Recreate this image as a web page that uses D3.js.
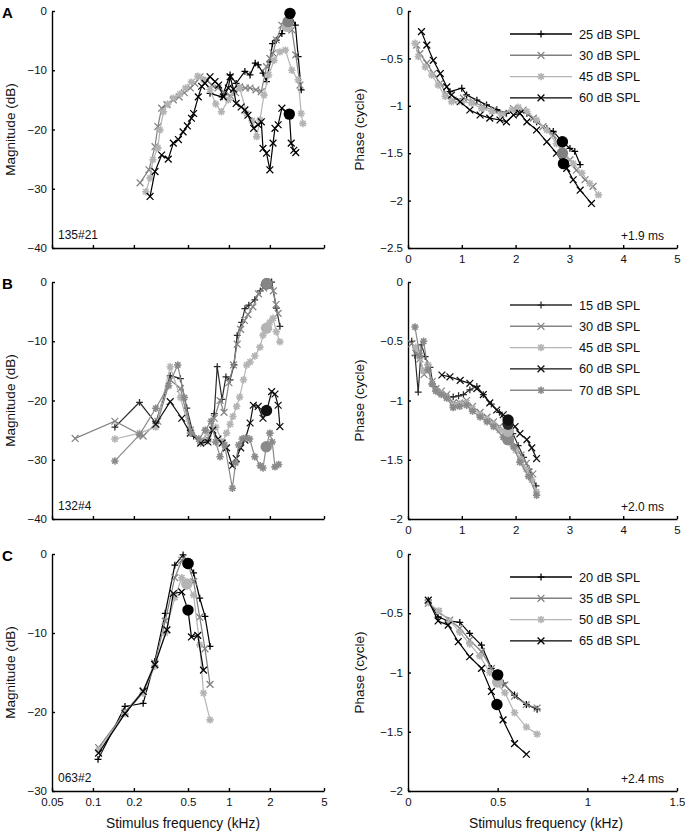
<!DOCTYPE html>
<html><head><meta charset="utf-8">
<script src="https://cdn.jsdelivr.net/npm/d3@7"></script>
<style>body{margin:0;background:#fff} text{font-family:"Liberation Sans",Arial,Helvetica,sans-serif}</style>
</head><body><svg id="c" width="685" height="832"></svg>
<script>
// ---------- Panel A (unit 135#21) ----------
const levelsA = ["25 dB SPL","30 dB SPL","45 dB SPL","60 dB SPL"];
const magA25 = [[0.726,-13.9],[0.89,-14.5],[1.02,-10.8],[1.13,-12.2],[1.31,-10.2],[1.43,-10.8],[1.56,-8.8],[1.64,-9.1],[1.78,-10.5],[1.89,-11.9],[2.0,-8.6],[2.09,-5.5],[2.23,-4.9],[2.45,-3.8],[2.58,-2.1],[2.81,-0.4],[3.08,-2.4],[3.23,-7.7],[3.4,-13.3]];
const magA30 = [[0.222,-29.0],[0.258,-26.8],[0.286,-22.9],[0.30,-19.5],[0.32,-16.4],[0.35,-15.8],[0.39,-15.0],[0.43,-14.5],[0.47,-13.8],[0.52,-13.0],[0.56,-12.2],[0.613,-11.1],[0.68,-11.6],[0.75,-12.5],[0.83,-13.0],[0.92,-13.7],[1.02,-14.3],[1.12,-13.8],[1.2,-12.8],[1.32,-13.0],[1.43,-13.0],[1.58,-13.3],[1.73,-13.6],[1.89,-9.4],[2.0,-8.0],[2.11,-7.1],[2.23,-4.9],[2.45,-2.4],[2.70,-1.8],[2.9,-3.2],[3.1,-7.4],[3.33,-12.5]];
const magA45 = [[0.245,-30.5],[0.263,-28.2],[0.276,-25.1],[0.30,-23.1],[0.311,-20.1],[0.33,-17.0],[0.355,-15.7],[0.39,-14.7],[0.437,-14.0],[0.48,-13.0],[0.53,-12.0],[0.59,-11.0],[0.65,-11.6],[0.726,-13.3],[0.80,-15.7],[0.88,-17.0],[0.99,-15.0],[1.08,-13.7],[1.2,-13.0],[1.35,-17.3],[1.48,-18.5],[1.6,-21.2],[1.69,-18.4],[1.81,-14.2],[1.96,-10.8],[2.15,-8.3],[2.37,-6.9],[2.6,-6.6],[2.9,-10.0],[3.23,-11.6],[3.4,-17.3],[3.5,-19.0]];
const magA60 = [[0.263,-31.3],[0.286,-27.1],[0.32,-24.3],[0.358,-25.0],[0.39,-22.3],[0.425,-21.7],[0.46,-20.4],[0.495,-19.4],[0.53,-18.1],[0.55,-17.3],[0.595,-14.5],[0.63,-12.7],[0.667,-12.2],[0.726,-11.1],[0.79,-11.9],[0.84,-12.5],[0.91,-14.5],[0.99,-13.0],[1.02,-11.1],[1.08,-13.2],[1.13,-15.6],[1.23,-16.2],[1.31,-16.7],[1.38,-17.6],[1.52,-19.8],[1.64,-19.2],[1.73,-18.7],[1.78,-23.2],[1.89,-24.0],[2.0,-26.8],[2.11,-22.3],[2.18,-19.8],[2.30,-19.2],[2.45,-16.4],[2.78,-17.4],[2.87,-22.3],[3.0,-23.5],[3.1,-23.9]];
const cfMagA = [[2,2.68,-2.6],[1,2.72,-1.8],[0,2.81,-0.4],[3,2.78,-17.4]];

const phA25 = [[0.78,-0.85],[1.0,-0.815],[1.09,-0.886],[1.28,-0.94],[1.46,-0.99],[1.65,-1.04],[1.83,-1.08],[2.02,-1.044],[2.21,-1.08],[2.39,-1.17],[2.58,-1.24],[2.70,-1.27],[2.87,-1.38],[3.01,-1.45],[3.1,-1.48],[3.2,-1.62]];
const phA30 = [[0.16,-0.36],[0.22,-0.45],[0.35,-0.55],[0.47,-0.66],[0.6,-0.76],[0.72,-0.886],[0.84,-0.94],[1.03,-0.92],[1.21,-0.957],[1.4,-1.01],[1.59,-1.044],[1.77,-1.08],[1.96,-1.03],[2.14,-1.044],[2.33,-1.13],[2.51,-1.22],[2.70,-1.31],[2.87,-1.50],[3.01,-1.57],[3.13,-1.68],[3.29,-1.78],[3.44,-1.85]];
const phA45 = [[0.13,-0.34],[0.19,-0.48],[0.32,-0.59],[0.44,-0.675],[0.56,-0.78],[0.69,-0.90],[0.81,-0.957],[1.0,-0.957],[1.18,-0.97],[1.37,-1.03],[1.56,-1.06],[1.74,-1.097],[1.93,-1.044],[2.05,-1.016],[2.21,-1.06],[2.39,-1.15],[2.58,-1.255],[2.76,-1.40],[2.87,-1.47],[3.07,-1.61],[3.23,-1.71],[3.38,-1.82],[3.54,-1.94]];
const phA60 = [[0.25,-0.218],[0.35,-0.36],[0.47,-0.52],[0.6,-0.66],[0.72,-0.80],[0.81,-0.886],[0.97,-0.957],[1.15,-1.044],[1.34,-1.097],[1.52,-1.13],[1.71,-1.15],[1.83,-1.17],[1.96,-1.097],[2.08,-1.08],[2.21,-1.17],[2.39,-1.255],[2.58,-1.38],[2.76,-1.50],[2.89,-1.61],[2.95,-1.66],[3.07,-1.78],[3.2,-1.89],[3.41,-2.03]];
const cfPhA = [[1,2.87,-1.50],[0,2.87,-1.38],[3,2.89,-1.61]];

// ---------- Panel B (unit 132#4) ----------
const levelsB = ["15 dB SPL","30 dB SPL","45 dB SPL","60 dB SPL","70 dB SPL"];
const magB15 = [[0.145,-24.5],[0.22,-20.3],[0.29,-23.8],[0.37,-15.8],[0.44,-16.3],[0.49,-21.3],[0.55,-26.0],[0.62,-27.2],[0.70,-26.8],[0.78,-22.2],[0.82,-14.3],[0.89,-19.8],[0.95,-16.0],[1.02,-16.5],[1.09,-14.0],[1.15,-9.0],[1.24,-6.8],[1.31,-4.5],[1.40,-3.9],[1.55,-3.0],[1.70,-1.5],[1.89,-0.2],[2.06,0.0],[2.23,-4.4],[2.37,-7.5]];
const magB30 = [[0.074,-26.4],[0.145,-23.5],[0.234,-26.0],[0.30,-23.5],[0.37,-16.5],[0.44,-18.0],[0.52,-25.0],[0.62,-26.8],[0.70,-26.5],[0.78,-23.0],[0.86,-20.0],[0.92,-22.0],[1.0,-17.0],[1.08,-14.0],[1.15,-10.5],[1.22,-8.0],[1.30,-6.5],[1.38,-5.5],[1.5,-4.2],[1.65,-2.0],[1.8,-1.0],[1.9,-0.5],[2.0,-0.4],[2.12,-1.5],[2.22,-3.8],[2.30,-5.3]];
const magB45 = [[0.145,-26.5],[0.22,-25.5],[0.29,-24.5],[0.37,-14.3],[0.44,-19.5],[0.52,-25.5],[0.62,-27.0],[0.70,-25.5],[0.80,-24.5],[0.9,-27.0],[0.96,-25.5],[1.02,-24.0],[1.07,-22.7],[1.14,-21.0],[1.2,-19.4],[1.28,-16.5],[1.35,-14.0],[1.43,-13.5],[1.55,-12.5],[1.69,-11.0],[1.78,-9.0],[1.89,-7.5],[2.0,-6.8],[2.11,-6.1],[2.23,-8.4],[2.37,-10.1]];
const magB60 = [[0.29,-24.0],[0.37,-20.2],[0.45,-23.0],[0.52,-25.5],[0.62,-27.2],[0.70,-27.0],[0.76,-25.0],[0.83,-26.5],[0.89,-27.2],[0.96,-28.0],[1.06,-31.0],[1.13,-29.8],[1.22,-28.0],[1.31,-26.7],[1.43,-23.8],[1.51,-20.8],[1.64,-21.0],[1.78,-23.0],[1.89,-21.9],[2.06,-18.5],[2.18,-18.9],[2.30,-20.8],[2.37,-24.4]];
const magB70 = [[0.145,-30.2],[0.22,-25.8],[0.29,-21.3],[0.36,-17.5],[0.42,-14.0],[0.47,-19.5],[0.53,-25.5],[0.6,-26.5],[0.67,-25.0],[0.74,-23.5],[0.80,-27.0],[0.86,-29.5],[0.93,-27.5],[1.06,-34.8],[1.12,-30.5],[1.18,-27.5],[1.25,-26.5],[1.33,-26.3],[1.42,-26.5],[1.55,-29.5],[1.70,-31.0],[1.78,-31.4],[1.88,-27.8],[2.0,-25.5],[2.08,-27.0],[2.18,-31.2],[2.32,-30.8]];
const cfMagB = [[4,1.88,-27.8],[3,1.89,-21.7],[2,1.89,-7.8],[0,1.9,-0.3],[1,1.9,-0.3]];

const phB15 = [[0.07,-0.5],[0.13,-0.62],[0.19,-0.93],[0.25,-0.53],[0.32,-0.63],[0.41,-0.72],[0.47,-0.88],[0.56,-0.93],[0.66,-0.95],[0.75,-0.97],[0.84,-0.97],[0.94,-0.96],[1.03,-0.95],[1.15,-0.91],[1.28,-0.88],[1.4,-0.95],[1.55,-1.03],[1.7,-1.1],[1.83,-1.18],[1.95,-1.28],[2.05,-1.38],[2.15,-1.48],[2.25,-1.58],[2.38,-1.72]];
const phB30 = [[0.07,-0.52],[0.145,-0.60],[0.22,-0.65],[0.3,-0.78],[0.37,-0.72],[0.45,-0.84],[0.52,-0.90],[0.62,-0.92],[0.72,-0.95],[0.84,-1.02],[0.96,-1.02],[1.09,-1.0],[1.2,-1.05],[1.34,-1.1],[1.47,-1.14],[1.59,-1.18],[1.7,-1.22],[1.8,-1.27],[1.9,-1.32],[2.0,-1.38],[2.1,-1.46],[2.2,-1.53],[2.32,-1.62]];
const phB45 = [[0.145,-0.55],[0.22,-0.64],[0.29,-0.75],[0.37,-0.70],[0.45,-0.86],[0.52,-0.92],[0.62,-0.94],[0.72,-0.97],[0.84,-1.04],[0.96,-1.03],[1.09,-1.02],[1.2,-1.07],[1.34,-1.12],[1.47,-1.16],[1.59,-1.2],[1.7,-1.25],[1.8,-1.3],[1.9,-1.35],[2.0,-1.42],[2.1,-1.5],[2.2,-1.58],[2.3,-1.67],[2.39,-1.77]];
const phB60 = [[0.63,-0.785],[0.78,-0.80],[0.97,-0.83],[1.15,-0.855],[1.28,-0.90],[1.40,-0.95],[1.52,-1.02],[1.65,-1.08],[1.77,-1.12],[1.86,-1.165],[1.99,-1.22],[2.08,-1.28],[2.21,-1.33],[2.30,-1.40],[2.39,-1.49]];
const phB70 = [[0.13,-0.38],[0.22,-0.62],[0.29,-0.50],[0.37,-0.74],[0.45,-0.86],[0.52,-0.92],[0.62,-0.95],[0.72,-0.98],[0.84,-1.06],[0.96,-1.05],[1.09,-1.04],[1.2,-1.09],[1.34,-1.14],[1.47,-1.18],[1.59,-1.22],[1.77,-1.31],[1.96,-1.39],[2.08,-1.52],[2.24,-1.64],[2.39,-1.80]];
const cfPhB = [[1,1.86,-1.33],[4,1.86,-1.33],[2,1.86,-1.26],[0,1.86,-1.2],[3,1.86,-1.165]];

// ---------- Panel C (unit 063#2) ----------
const levelsC = ["20 dB SPL","35 dB SPL","50 dB SPL","65 dB SPL"];
const magC20 = [[0.109,-26.0],[0.172,-19.3],[0.234,-18.9],[0.285,-13.6],[0.34,-7.5],[0.40,-1.4],[0.46,-0.1],[0.55,-2.4],[0.61,-5.6],[0.667,-7.9],[0.726,-11.7]];
const magC35 = [[0.11,-24.5],[0.172,-20.0],[0.234,-17.3],[0.285,-13.8],[0.34,-8.5],[0.40,-3.0],[0.45,-0.8],[0.50,-1.2],[0.55,-3.5],[0.61,-8.0],[0.667,-12.0],[0.726,-16.5]];
const magC50 = [[0.11,-24.8],[0.172,-20.2],[0.234,-17.6],[0.285,-14.2],[0.34,-10.0],[0.40,-5.5],[0.45,-3.0],[0.49,-3.8],[0.55,-5.2],[0.61,-11.5],[0.65,-17.6],[0.726,-21.0]];
const magC65 = [[0.11,-25.2],[0.172,-20.2],[0.234,-17.4],[0.285,-14.0],[0.35,-9.6],[0.39,-5.0],[0.45,-4.8],[0.50,-7.1],[0.53,-10.5],[0.59,-10.3],[0.65,-14.7]];
const cfMagC = [[2,0.49,-3.8],[1,0.50,-1.2],[0,0.50,-1.2],[3,0.50,-7.1]];

const phC20 = [[0.113,-0.39],[0.168,-0.53],[0.224,-0.565],[0.289,-0.577],[0.344,-0.67],[0.41,-0.77],[0.465,-0.965],[0.51,-1.02],[0.53,-1.09],[0.594,-1.19],[0.66,-1.27],[0.72,-1.31]];
const phC35 = [[0.113,-0.416],[0.168,-0.487],[0.233,-0.557],[0.289,-0.627],[0.344,-0.726],[0.41,-0.824],[0.465,-0.965],[0.50,-1.035],[0.54,-1.105],[0.594,-1.20],[0.66,-1.27],[0.72,-1.30]];
const phC50 = [[0.113,-0.41],[0.171,-0.48],[0.233,-0.565],[0.289,-0.66],[0.344,-0.76],[0.40,-0.86],[0.456,-1.0],[0.493,-1.09],[0.54,-1.17],[0.594,-1.34],[0.66,-1.46],[0.72,-1.52]];
const phC65 = [[0.113,-0.39],[0.168,-0.565],[0.224,-0.60],[0.28,-0.74],[0.344,-0.867],[0.41,-0.965],[0.465,-1.16],[0.496,-1.27],[0.53,-1.40],[0.594,-1.60],[0.66,-1.69]];
const cfPhC = [[2,0.5,-1.08],[1,0.5,-1.02],[0,0.5,-1.02],[3,0.496,-1.27]];

// ---------- axes / labels ----------
const magTicksAB = [-40,-30,-20,-10,0];
const magTicksC = [-30,-20,-10,0];
const phTicksA = [-2.5,-2,-1.5,-1,-0.5,0];
const phTicksBC = [-2,-1.5,-1,-0.5,0];
const freqLogTicks = [0.05,0.1,0.2,0.5,1,2,5];
const freqLinTicksAB = [0,1,2,3,4,5];
const freqLinTicksC = [0,0.5,1,1.5];
const unitIds = ["135#21","132#4","063#2"];
const delays = ["+1.9 ms","+2.0 ms","+2.4 ms"];
const panelLetters = ["A","B","C"];

// ---------- styles ----------
const stylesA = [{c:"#000",m:"plus"},{c:"#808080",m:"cross"},{c:"#b4b4b4",m:"star"},{c:"#000",m:"cross"}];
const stylesB = [{c:"#2a2a2a",m:"plus"},{c:"#858585",m:"cross"},{c:"#b4b4b4",m:"star"},{c:"#111",m:"cross"},{c:"#8a8a8a",m:"star"}];
const stylesC = stylesA;

const svg = d3.select("#c");
const rowTop=[11,282,554], rowH=237;
const LX0=52,LX1=324,RX0=408,RX1=677;
const FONT = 11.5;

function markerPath(m){
  const s=3.4;
  if(m==="plus") return `M${-s},0H${s}M0,${-s}V${s}`;
  if(m==="cross") return `M${-s},${-s}L${s},${s}M${-s},${s}L${s},${-s}`;
  const t=3.7,u=2.7;
  return `M${-t},0H${t}M0,${-t}V${t}M${-u},${-u}L${u},${u}M${-u},${u}L${u},${-u}`;
}

function drawPanel(p){
  const g = svg.append("g");
  const top=rowTop[p.row], bot=top+rowH;
  const x0 = p.left?LX0:RX0;
  const x = p.left ? d3.scaleLog().domain([0.05,5]).range([LX0,LX1])
                   : d3.scaleLinear().domain(p.xDomain).range([RX0,RX1]);
  const y = d3.scaleLinear().domain(p.yDomain).range([bot,top]);
  const ya = d3.axisLeft(y).tickValues(p.yTicks).tickSize(-3).tickSizeOuter(0).tickPadding(5).tickFormat(d3.format("~g"));
  const xa = d3.axisBottom(x).tickValues(p.xTicks).tickSize(-3).tickSizeOuter(0).tickPadding(7)
      .tickFormat(p.xLabels ? (d=>String(d)) : (()=>""));
  const gy=g.append("g").attr("transform",`translate(${x0},0)`).call(ya);
  const gx=g.append("g").attr("transform",`translate(0,${bot})`).call(xa);
  [gy,gx].forEach(a=>{
    a.select(".domain").attr("stroke","#000").attr("stroke-width",1.4);
    a.selectAll(".tick line").attr("stroke","#000").attr("stroke-width",1.4);
    a.selectAll("text").attr("font-size",FONT).attr("fill","#111").attr("font-family",'"Liberation Sans",Arial,sans-serif');
  });
  const line = d3.line().x(d=>x(d[0])).y(d=>y(d[1]));
  p.series.forEach((s,i)=>{
    const st=p.styles[i];
    g.append("path").datum(s).attr("d",line).attr("fill","none").attr("stroke",st.c).attr("stroke-width",1.2);
    g.selectAll(null).data(s).enter().append("path")
      .attr("transform",d=>`translate(${x(d[0])},${y(d[1])})`)
      .attr("d",markerPath(st.m)).attr("stroke",st.c).attr("stroke-width",st.m==="star"?1.6:1.25).attr("fill","none");
  });
  p.cf.forEach(c=>{
    g.append("circle").attr("cx",x(c[1])).attr("cy",y(c[2])).attr("r",5.7).attr("fill",p.styles[c[0]].c);
  });
  if(p.left){
    g.append("text").attr("x",58).attr("y",bot-9).attr("font-size",12).attr("fill","#111").text(unitIds[p.row]);
    g.append("text").attr("x",2).attr("y",top+7).attr("font-size",15).attr("font-weight","bold").text(panelLetters[p.row]);
    g.append("text").attr("transform",`translate(15,${top+rowH/2}) rotate(-90)`).attr("text-anchor","middle")
      .attr("font-size",13.5).attr("fill","#111").text("Magnitude (dB)");
  } else {
    g.append("text").attr("x",664).attr("y",bot-8).attr("text-anchor","end").attr("font-size",12).attr("fill","#111").text(delays[p.row]);
    g.append("text").attr("transform",`translate(364,${top+rowH/2}) rotate(-90)`).attr("text-anchor","middle")
      .attr("font-size",13.5).attr("fill","#111").text("Phase (cycle)");
    const lg = g.append("g");
    p.labels.forEach((lab,i)=>{
      const ly = top + 23 + i*21.3;
      const st=p.styles[i];
      lg.append("line").attr("x1",510).attr("x2",572).attr("y1",ly).attr("y2",ly).attr("stroke",st.c).attr("stroke-width",1.4);
      lg.append("path").attr("transform",`translate(541,${ly})`).attr("d",markerPath(st.m)).attr("stroke",st.c).attr("stroke-width",st.m==="star"?1.6:1.25);
      lg.append("text").attr("x",579).attr("y",ly+4.5).attr("font-size",12.8).attr("fill","#111").text(lab);
    });
  }
  if(p.row===2){
    g.append("text").attr("x",p.left?183:546).attr("y",828).attr("text-anchor","middle")
      .attr("font-size",13.8).attr("fill","#111").text("Stimulus frequency (kHz)");
  }
}

const panels = [
  {row:0,left:true,yDomain:[-40,0],yTicks:magTicksAB,xTicks:freqLogTicks,xLabels:false,series:[magA25,magA30,magA45,magA60],styles:stylesA,cf:cfMagA},
  {row:0,left:false,xDomain:[0,5],yDomain:[-2.5,0],yTicks:phTicksA,xTicks:freqLinTicksAB,xLabels:true,series:[phA25,phA30,phA45,phA60],styles:stylesA,cf:cfPhA,labels:levelsA},
  {row:1,left:true,yDomain:[-40,0],yTicks:magTicksAB,xTicks:freqLogTicks,xLabels:false,series:[magB15,magB30,magB45,magB60,magB70],styles:stylesB,cf:cfMagB},
  {row:1,left:false,xDomain:[0,5],yDomain:[-2,0],yTicks:phTicksBC,xTicks:freqLinTicksAB,xLabels:true,series:[phB15,phB30,phB45,phB60,phB70],styles:stylesB,cf:cfPhB,labels:levelsB},
  {row:2,left:true,yDomain:[-30,0],yTicks:magTicksC,xTicks:freqLogTicks,xLabels:true,series:[magC20,magC35,magC50,magC65],styles:stylesC,cf:cfMagC},
  {row:2,left:false,xDomain:[0,1.5],yDomain:[-2,0],yTicks:phTicksBC,xTicks:freqLinTicksC,xLabels:true,series:[phC20,phC35,phC50,phC65],styles:stylesC,cf:cfPhC,labels:levelsC}
];
panels.forEach(drawPanel);
</script></body></html>
